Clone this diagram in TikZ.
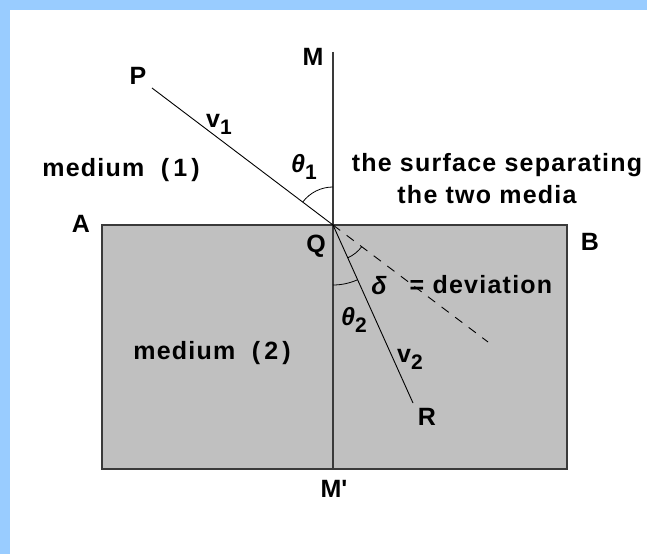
\documentclass[tikz,border=0pt]{standalone}
\usepackage{fontspec}
\setmainfont{Liberation Sans}[LetterSpace=5]
\definecolor{bluebar}{HTML}{99CCFF}
\definecolor{medgray}{HTML}{C0C0C0}
\definecolor{edgegray}{HTML}{3A3A3A}
\newcommand\sbs[1]{\raisebox{-7pt}{\fontsize{21}{21}\selectfont #1}}
\begin{document}
\begin{tikzpicture}[x=1pt,y=1pt,
  lbl/.style={inner sep=0pt, font=\fontsize{25}{28}\selectfont\bfseries},
  ray/.style={line width=0.9pt, black},
  axisline/.style={line width=2pt, edgegray},
  arcline/.style={line width=0.8pt, black}]
\useasboundingbox (0,0) rectangle (647,554);
\fill[white] (0,0) rectangle (647,554);
\fill[bluebar] (0,0) rectangle (10,554);
\fill[bluebar] (0,544) rectangle (647,554);
% medium 2 block
\draw[edgegray, line width=2pt, fill=medgray] (102,85) rectangle (567,329);
% points
\coordinate (Q) at (333,329);
\coordinate (Mt) at (333,502);
\coordinate (Mb) at (333,85);
\coordinate (Pp) at (152,466);
\coordinate (Rr) at (413,151);
\coordinate (Dd) at (488,212);
% lines
\draw[axisline] (Mt) -- (Mb);
\draw[ray] (Pp) -- (Q);
\draw[ray] (Q) -- (Rr);
\draw[ray, dash pattern=on 9pt off 8pt] (Q) -- (Dd);
% angle arcs
\draw[arcline] ([shift={(90:38)}]Q) arc[start angle=90, end angle=142.9, radius=38];
\draw[arcline] ([shift={(-90:60)}]Q) arc[start angle=-90, end angle=-65.8, radius=60];
\draw[arcline] ([shift={(-65.8:36)}]Q) arc[start angle=-65.8, end angle=-37.1, radius=36];
% labels
\node[lbl] (labM) at (313,497) {M};
\node[lbl] (labP) at (138,478) {P};
\node[lbl] (labv1) at (219,430) {v\sbs{1}};
\node[lbl] (labt1) at (304,387) {{\itshape θ}\sbs{1}};
\node[lbl] (med1) at (121,384) {medium\ \ (\,1\,)};
\node[lbl] (surf1) at (497,389) {the surface separating};
\node[lbl] (surf2) at (487,359) {the two media};
\node[lbl] (labA) at (81,330) {A};
\node[lbl] (labB) at (590,312) {B};
\node[lbl] (labQ) at (316,308) {Q};
\node[lbl] (labd) at (379,268) {\itshape δ};
\node[lbl] (dev) at (481,269) {= deviation};
\node[lbl] (labt2) at (354,234) {{\itshape θ}\sbs{2}};
\node[lbl] (labv2) at (410,195) {v\sbs{2}};
\node[lbl] (labR) at (427,137) {R};
\node[lbl] (labMp) at (334,65) {M\textquotesingle};
\node[lbl] (med2) at (212,201) {medium\ \ (\,2\,)};
\end{tikzpicture}
\end{document}
